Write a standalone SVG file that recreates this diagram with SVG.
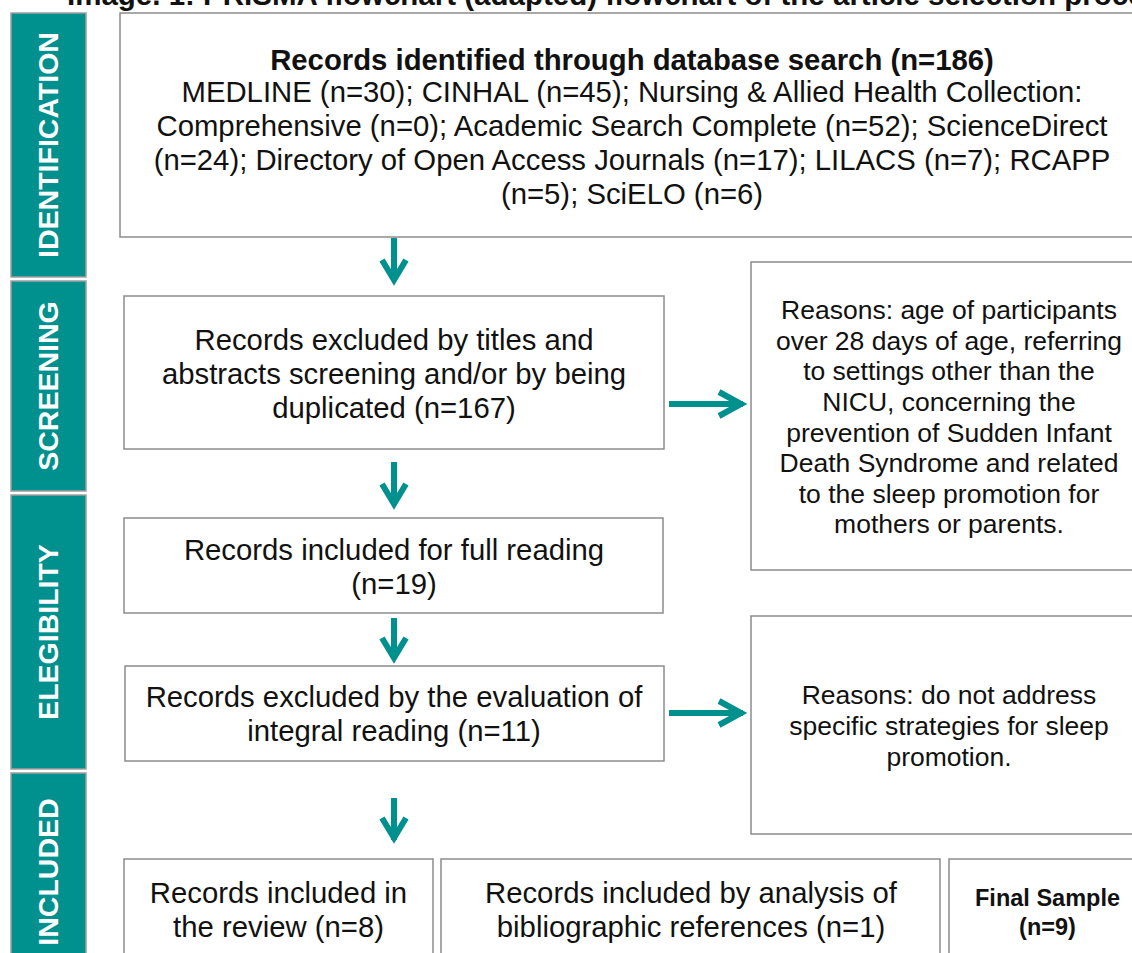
<svg xmlns="http://www.w3.org/2000/svg" width="1132" height="953" viewBox="0 0 1132 953">
<style>
.bar{fill:#00918F;stroke:#A0A0A0;stroke-width:1.5}
.bl{font-family:"Liberation Sans",Arial,sans-serif;font-weight:bold;font-size:28.5px;fill:#fff;text-anchor:middle}
.box{fill:#fff;stroke:#8C8C8C;stroke-width:1.5}
.t{font-family:"Liberation Sans",Arial,sans-serif;font-size:29.3px;fill:#111;text-anchor:middle}
.r{font-family:"Liberation Sans",Arial,sans-serif;font-size:26.5px;fill:#111;text-anchor:middle}
.f{font-family:"Liberation Sans",Arial,sans-serif;font-size:23.5px;font-weight:bold;fill:#111;text-anchor:middle}
.b{font-weight:bold}
.ar{fill:none;stroke:#00918F;stroke-width:6;stroke-linejoin:miter;stroke-linecap:butt}
</style>
<rect width="1132" height="953" fill="#fff"/>
<text x="67" y="5" style="font-family:'Liberation Sans',Arial,sans-serif;font-weight:bold;font-size:29.5px;fill:#111">Image. 1: PRISMA flowchart (adapted) flowchart of the article selection process</text>

<g id="stage-identification"><rect class="bar" x="11" y="13" width="75" height="264"/><text class="bl" transform="translate(58,145) rotate(-90)">IDENTIFICATION</text></g>
<g id="stage-screening"><rect class="bar" x="11" y="281" width="75" height="210"/><text class="bl" transform="translate(58,386) rotate(-90)">SCREENING</text></g>
<g id="stage-elegibility"><rect class="bar" x="11" y="495" width="75" height="274"/><text class="bl" transform="translate(58,632) rotate(-90)">ELEGIBILITY</text></g>
<g id="stage-included"><rect class="bar" x="11" y="773" width="75" height="190"/><text class="bl" transform="translate(58,872) rotate(-90)">INCLUDED</text></g>

<g id="identified"><rect class="box" x="120" y="13" width="1030" height="224"/>
<text class="t b" x="632" y="70">Records identified through database search (n=186)</text>
<text class="t" x="632" y="102">MEDLINE (n=30); CINHAL (n=45); Nursing &amp; Allied Health Collection:</text>
<text class="t" x="632" y="136">Comprehensive (n=0); Academic Search Complete (n=52); ScienceDirect</text>
<text class="t" x="632" y="170">(n=24); Directory of Open Access Journals (n=17); LILACS (n=7); RCAPP</text>
<text class="t" x="632" y="204">(n=5); SciELO (n=6)</text></g>

<g id="screened"><rect class="box" x="124" y="296" width="540" height="153"/>
<text class="t" x="394" y="350">Records excluded by titles and</text>
<text class="t" x="394" y="384">abstracts screening and/or by being</text>
<text class="t" x="394" y="418">duplicated (n=167)</text></g>

<g id="reasons1"><rect class="box" x="751" y="262" width="400" height="308"/>
<text class="r" x="949" y="319">Reasons: age of participants</text>
<text class="r" x="949" y="350">over 28 days of age, referring</text>
<text class="r" x="949" y="380">to settings other than the</text>
<text class="r" x="949" y="411">NICU, concerning the</text>
<text class="r" x="949" y="442">prevention of Sudden Infant</text>
<text class="r" x="949" y="472">Death Syndrome and related</text>
<text class="r" x="949" y="503">to the sleep promotion for</text>
<text class="r" x="949" y="533">mothers or parents.</text></g>

<g id="fullreading"><rect class="box" x="124" y="518" width="539" height="95"/>
<text class="t" x="394" y="560">Records included for full reading</text>
<text class="t" x="394" y="594">(n=19)</text></g>

<g id="excluded"><rect class="box" x="125" y="666" width="539" height="95"/>
<text class="t" x="394" y="707">Records excluded by the evaluation of</text>
<text class="t" x="394" y="741">integral reading (n=11)</text></g>

<g id="reasons2"><rect class="box" x="751" y="616" width="400" height="218"/>
<text class="r" x="949" y="704">Reasons: do not address</text>
<text class="r" x="949" y="735">specific strategies for sleep</text>
<text class="r" x="949" y="766">promotion.</text></g>

<g id="included-review"><rect class="box" x="124" y="859" width="309" height="110"/>
<text class="t" x="278.5" y="903">Records included in</text>
<text class="t" x="278.5" y="937">the review (n=8)</text></g>

<g id="included-refs"><rect class="box" x="441" y="859" width="499" height="110"/>
<text class="t" x="691" y="903">Records included by analysis of</text>
<text class="t" x="691" y="937">bibliographic references (n=1)</text></g>

<g id="final"><rect class="box" x="949" y="859" width="200" height="110"/>
<text class="f" x="1047.5" y="906">Final Sample</text>
<text class="f" x="1047.5" y="935">(n=9)</text></g>

<g id="connectors">
<path class="ar" d="M394 238V281M382 260L394 280L406 260"/>
<path class="ar" d="M394 462V505M382 484L394 504L406 484"/>
<path class="ar" d="M394 618V659M382 638L394 658L406 638"/>
<path class="ar" d="M394 798V840M382 818L394 838L406 818"/>
<path class="ar" d="M669 404H743M719 392L741 404L719 416"/>
<path class="ar" d="M669 713H743M719 701L741 713L719 725"/>
</g>
</svg>
